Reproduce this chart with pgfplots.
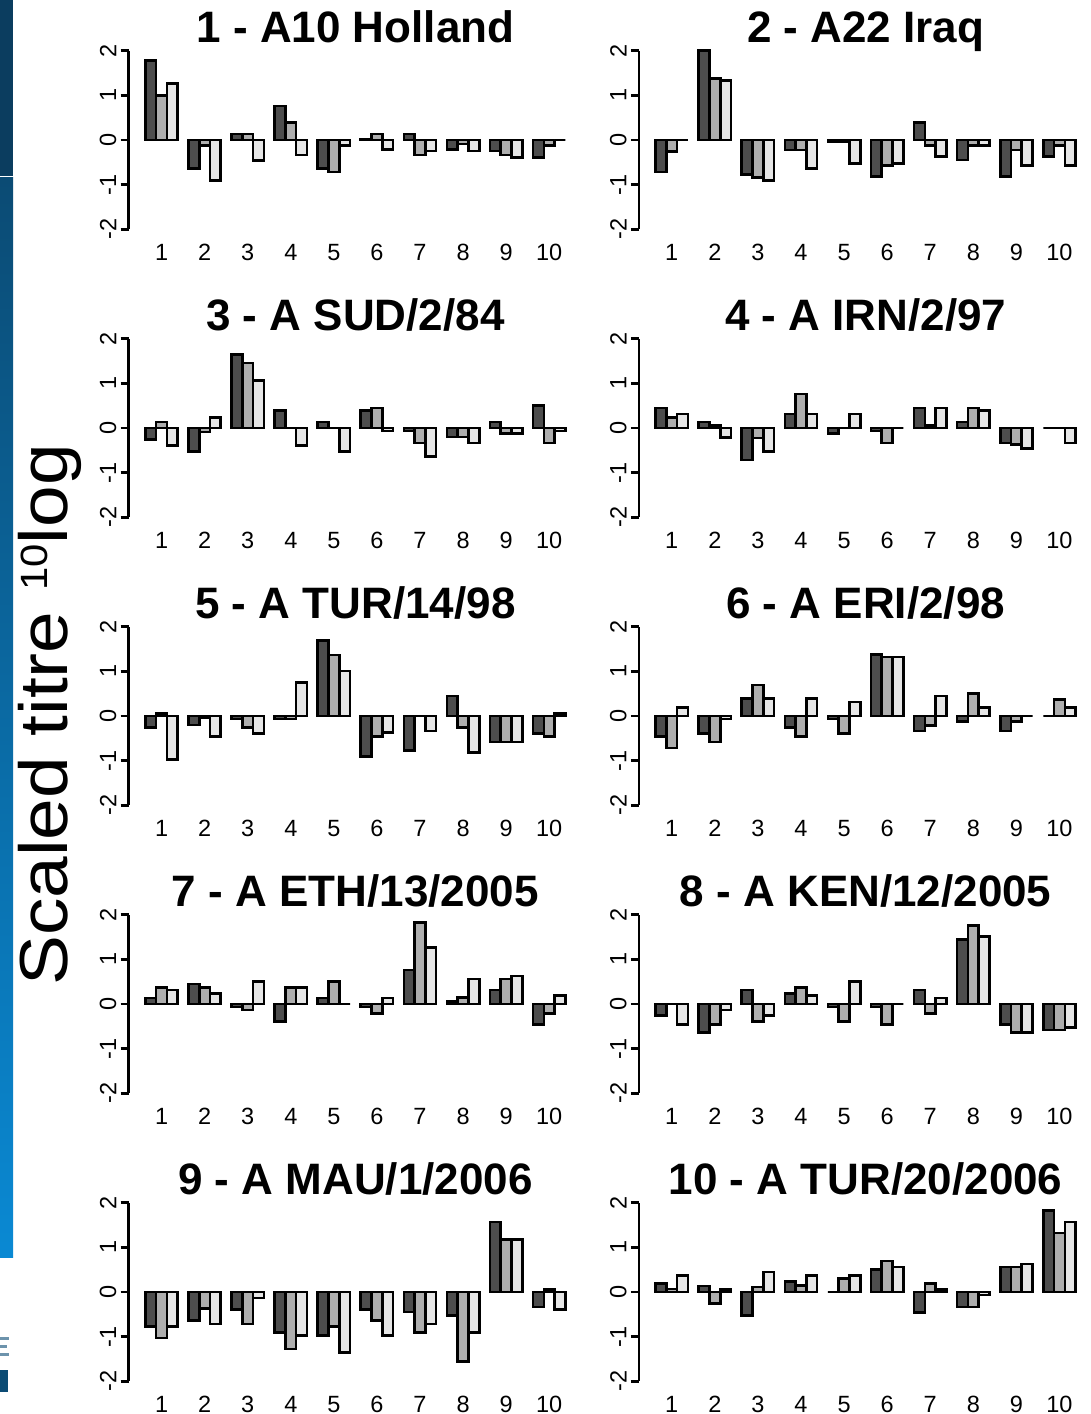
\documentclass[border=0pt]{standalone}
\usepackage{pgfplots}
\pgfplotsset{compat=1.18}
\usepackage{pgfplotstable}
\usepackage{fontspec}
\setmainfont{Liberation Sans}
\setsansfont{Liberation Sans}

\definecolor{darkbar}{HTML}{4D4D4D}
\definecolor{midbar}{HTML}{AEAEAE}
\definecolor{lightbar}{HTML}{E6E6E6}
\definecolor{stripTop}{HTML}{0B3D5F}
\definecolor{stripUpper}{HTML}{0B4B74}
\definecolor{stripLower}{HTML}{0A89D3}

% scaled log10 titres: group g, three sera (a, b, c)
\pgfplotstableread{
g a b c
1 1.78 0.99 1.27
2 -0.64 -0.12 -0.91
3 0.13 0.13 -0.46
4 0.76 0.39 -0.34
5 -0.64 -0.72 -0.12
6 0.01 0.13 -0.21
7 0.13 -0.34 -0.25
8 -0.21 -0.09 -0.25
9 -0.25 -0.34 -0.39
10 -0.39 -0.12 0.00
}\tabA
\pgfplotstableread{
g a b c
1 -0.72 -0.26 0.00
2 2.00 1.38 1.33
3 -0.77 -0.84 -0.91
4 -0.22 -0.22 -0.64
5 -0.04 -0.04 -0.52
6 -0.82 -0.57 -0.52
7 0.39 -0.13 -0.37
8 -0.45 -0.13 -0.13
9 -0.82 -0.22 -0.57
10 -0.37 -0.12 -0.57
}\tabB
\pgfplotstableread{
g a b c
1 -0.26 0.13 -0.39
2 -0.52 -0.09 0.24
3 1.64 1.46 1.07
4 0.39 0.00 -0.39
5 0.13 0.00 -0.52
6 0.39 0.45 -0.07
7 -0.07 -0.34 -0.64
8 -0.20 -0.20 -0.34
9 0.13 -0.13 -0.13
10 0.50 -0.34 -0.07
}\tabC
\pgfplotstableread{
g a b c
1 0.45 0.24 0.31
2 0.13 0.06 -0.21
3 -0.72 -0.22 -0.52
4 0.31 0.76 0.31
5 -0.13 0.00 0.31
6 -0.07 -0.34 0.00
7 0.45 0.06 0.45
8 0.13 0.45 0.39
9 -0.34 -0.37 -0.46
10 0.00 0.00 -0.34
}\tabD
\pgfplotstableread{
g a b c
1 -0.26 0.06 -0.97
2 -0.20 -0.04 -0.46
3 -0.07 -0.26 -0.39
4 -0.07 -0.07 0.75
5 1.69 1.37 1.01
6 -0.91 -0.46 -0.37
7 -0.77 0.00 -0.34
8 0.45 -0.26 -0.82
9 -0.58 -0.58 -0.58
10 -0.39 -0.46 0.06
}\tabE
\pgfplotstableread{
g a b c
1 -0.46 -0.72 0.19
2 -0.39 -0.58 -0.07
3 0.39 0.69 0.39
4 -0.26 -0.46 0.39
5 -0.07 -0.39 0.31
6 1.38 1.32 1.32
7 -0.34 -0.21 0.45
8 -0.13 0.51 0.19
9 -0.34 -0.13 0.00
10 0.00 0.37 0.19
}\tabF
\pgfplotstableread{
g a b c
1 0.13 0.37 0.31
2 0.45 0.37 0.24
3 -0.07 -0.13 0.50
4 -0.39 0.37 0.37
5 0.13 0.50 0.00
6 -0.07 -0.21 0.13
7 0.76 1.83 1.27
8 0.06 0.15 0.56
9 0.31 0.56 0.63
10 -0.46 -0.21 0.19
}\tabG
\pgfplotstableread{
g a b c
1 -0.26 0.00 -0.46
2 -0.64 -0.46 -0.13
3 0.31 -0.39 -0.26
4 0.24 0.37 0.19
5 -0.07 -0.39 0.50
6 -0.07 -0.46 0.00
7 0.31 -0.21 0.13
8 1.45 1.76 1.51
9 -0.46 -0.64 -0.64
10 -0.58 -0.58 -0.52
}\tabH
\pgfplotstableread{
g a b c
1 -0.77 -1.03 -0.77
2 -0.64 -0.37 -0.72
3 -0.39 -0.72 -0.13
4 -0.91 -1.28 -0.97
5 -0.97 -0.77 -1.36
6 -0.39 -0.64 -0.97
7 -0.45 -0.91 -0.72
8 -0.52 -1.55 -0.91
9 1.57 1.18 1.18
10 -0.34 0.06 -0.39
}\tabI
\pgfplotstableread{
g a b c
1 0.19 0.07 0.37
2 0.13 -0.26 0.06
3 -0.52 0.11 0.45
4 0.24 0.15 0.37
5 0.00 0.30 0.37
6 0.51 0.69 0.56
7 -0.46 0.19 0.06
8 -0.34 -0.34 -0.07
9 0.56 0.56 0.63
10 1.83 1.32 1.57
}\tabJ

\pgfplotsset{
  panel/.style={
    anchor=south west, scale only axis,
    width=453.6pt, height=178.6pt,
    xmin=0.235, xmax=10.765, ymin=-2, ymax=2, clip=false,
    axis x line=bottom, axis y line=left,
    axis line style={-},
    x axis line style={draw=none},
    y axis line style={line width=2.6pt, black},
    xtick={1,...,10}, xticklabels={1,2,3,4,5,6,7,8,9,10},
    ytick={-2,-1,0,1,2}, yticklabels={-2,-1,0,1,2},
    xtick style={draw=none},
    ytick style={line width=2.6pt, black},
    tick align=outside, major tick length=8pt,
    tick label style={font=\fontsize{23.5}{26}\selectfont},
    xticklabel style={anchor=base, yshift=-23.2pt},
    yticklabel style={anchor=center, xshift=-12.5pt, rotate=90},
    title style={font=\bfseries\fontsize{44}{48}\selectfont,
      at={(0.5,1)}, anchor=base, yshift=2.5pt},
  },
  serobar/.style={ybar, bar width=0.25, bar shift=0pt,
    draw=black, line width=2.6pt},
}

\newcommand{\panel}[4]{%
  \begin{axis}[panel, at={(#1pt,#2pt)}, title={#3}]
    \addplot[serobar, fill=darkbar]  table[x expr=\thisrow{g}-0.25, y=a] {#4};
    \addplot[serobar, fill=midbar]   table[x expr=\thisrow{g}, y=b] {#4};
    \addplot[serobar, fill=lightbar] table[x expr=\thisrow{g}+0.25, y=c] {#4};
  \end{axis}}

\begin{document}
\begin{tikzpicture}
  \path[use as bounding box, fill=white] (0pt,0pt) rectangle (1090pt,1414pt);
  % side strip
  \fill[stripTop] (0pt,1238pt) rectangle (13pt,1414pt);
  \shade[top color=stripUpper, bottom color=stripLower] (0pt,156pt) rectangle (13pt,1236pt);
  % small logo marks
  \fill[stripUpper] (0pt,22pt) rectangle (8pt,44pt);
  \fill[stripUpper!60] (0pt,58pt) rectangle (9pt,61pt);
  \fill[stripUpper!60] (0pt,66pt) rectangle (7pt,69pt);
  \fill[stripUpper!60] (0pt,74pt) rectangle (9pt,77pt);

  \node[rotate=90, anchor=center, font=\fontsize{68}{76}\selectfont]
    at (50pt,699pt) {\scalebox{1.1}[1]{Scaled titre \raisebox{20pt}{\fontsize{38}{42}\selectfont 10}log}};

  \panel{128.6}{1184.7}{1 - A10 Holland}{\tabA}
  \panel{638.8}{1184.7}{2 - A22 Iraq}{\tabB}
  \panel{128.6}{896.7}{3 - A SUD/2/84}{\tabC}
  \panel{638.8}{896.7}{4 - A IRN/2/97}{\tabD}
  \panel{128.6}{608.7}{5 - A TUR/14/98}{\tabE}
  \panel{638.8}{608.7}{6 - A ERI/2/98}{\tabF}
  \panel{128.6}{320.7}{7 - A ETH/13/2005}{\tabG}
  \panel{638.8}{320.7}{8 - A KEN/12/2005}{\tabH}
  \panel{128.6}{32.7}{9 - A MAU/1/2006}{\tabI}
  \panel{638.8}{32.7}{10 - A TUR/20/2006}{\tabJ}
\end{tikzpicture}
\end{document}
